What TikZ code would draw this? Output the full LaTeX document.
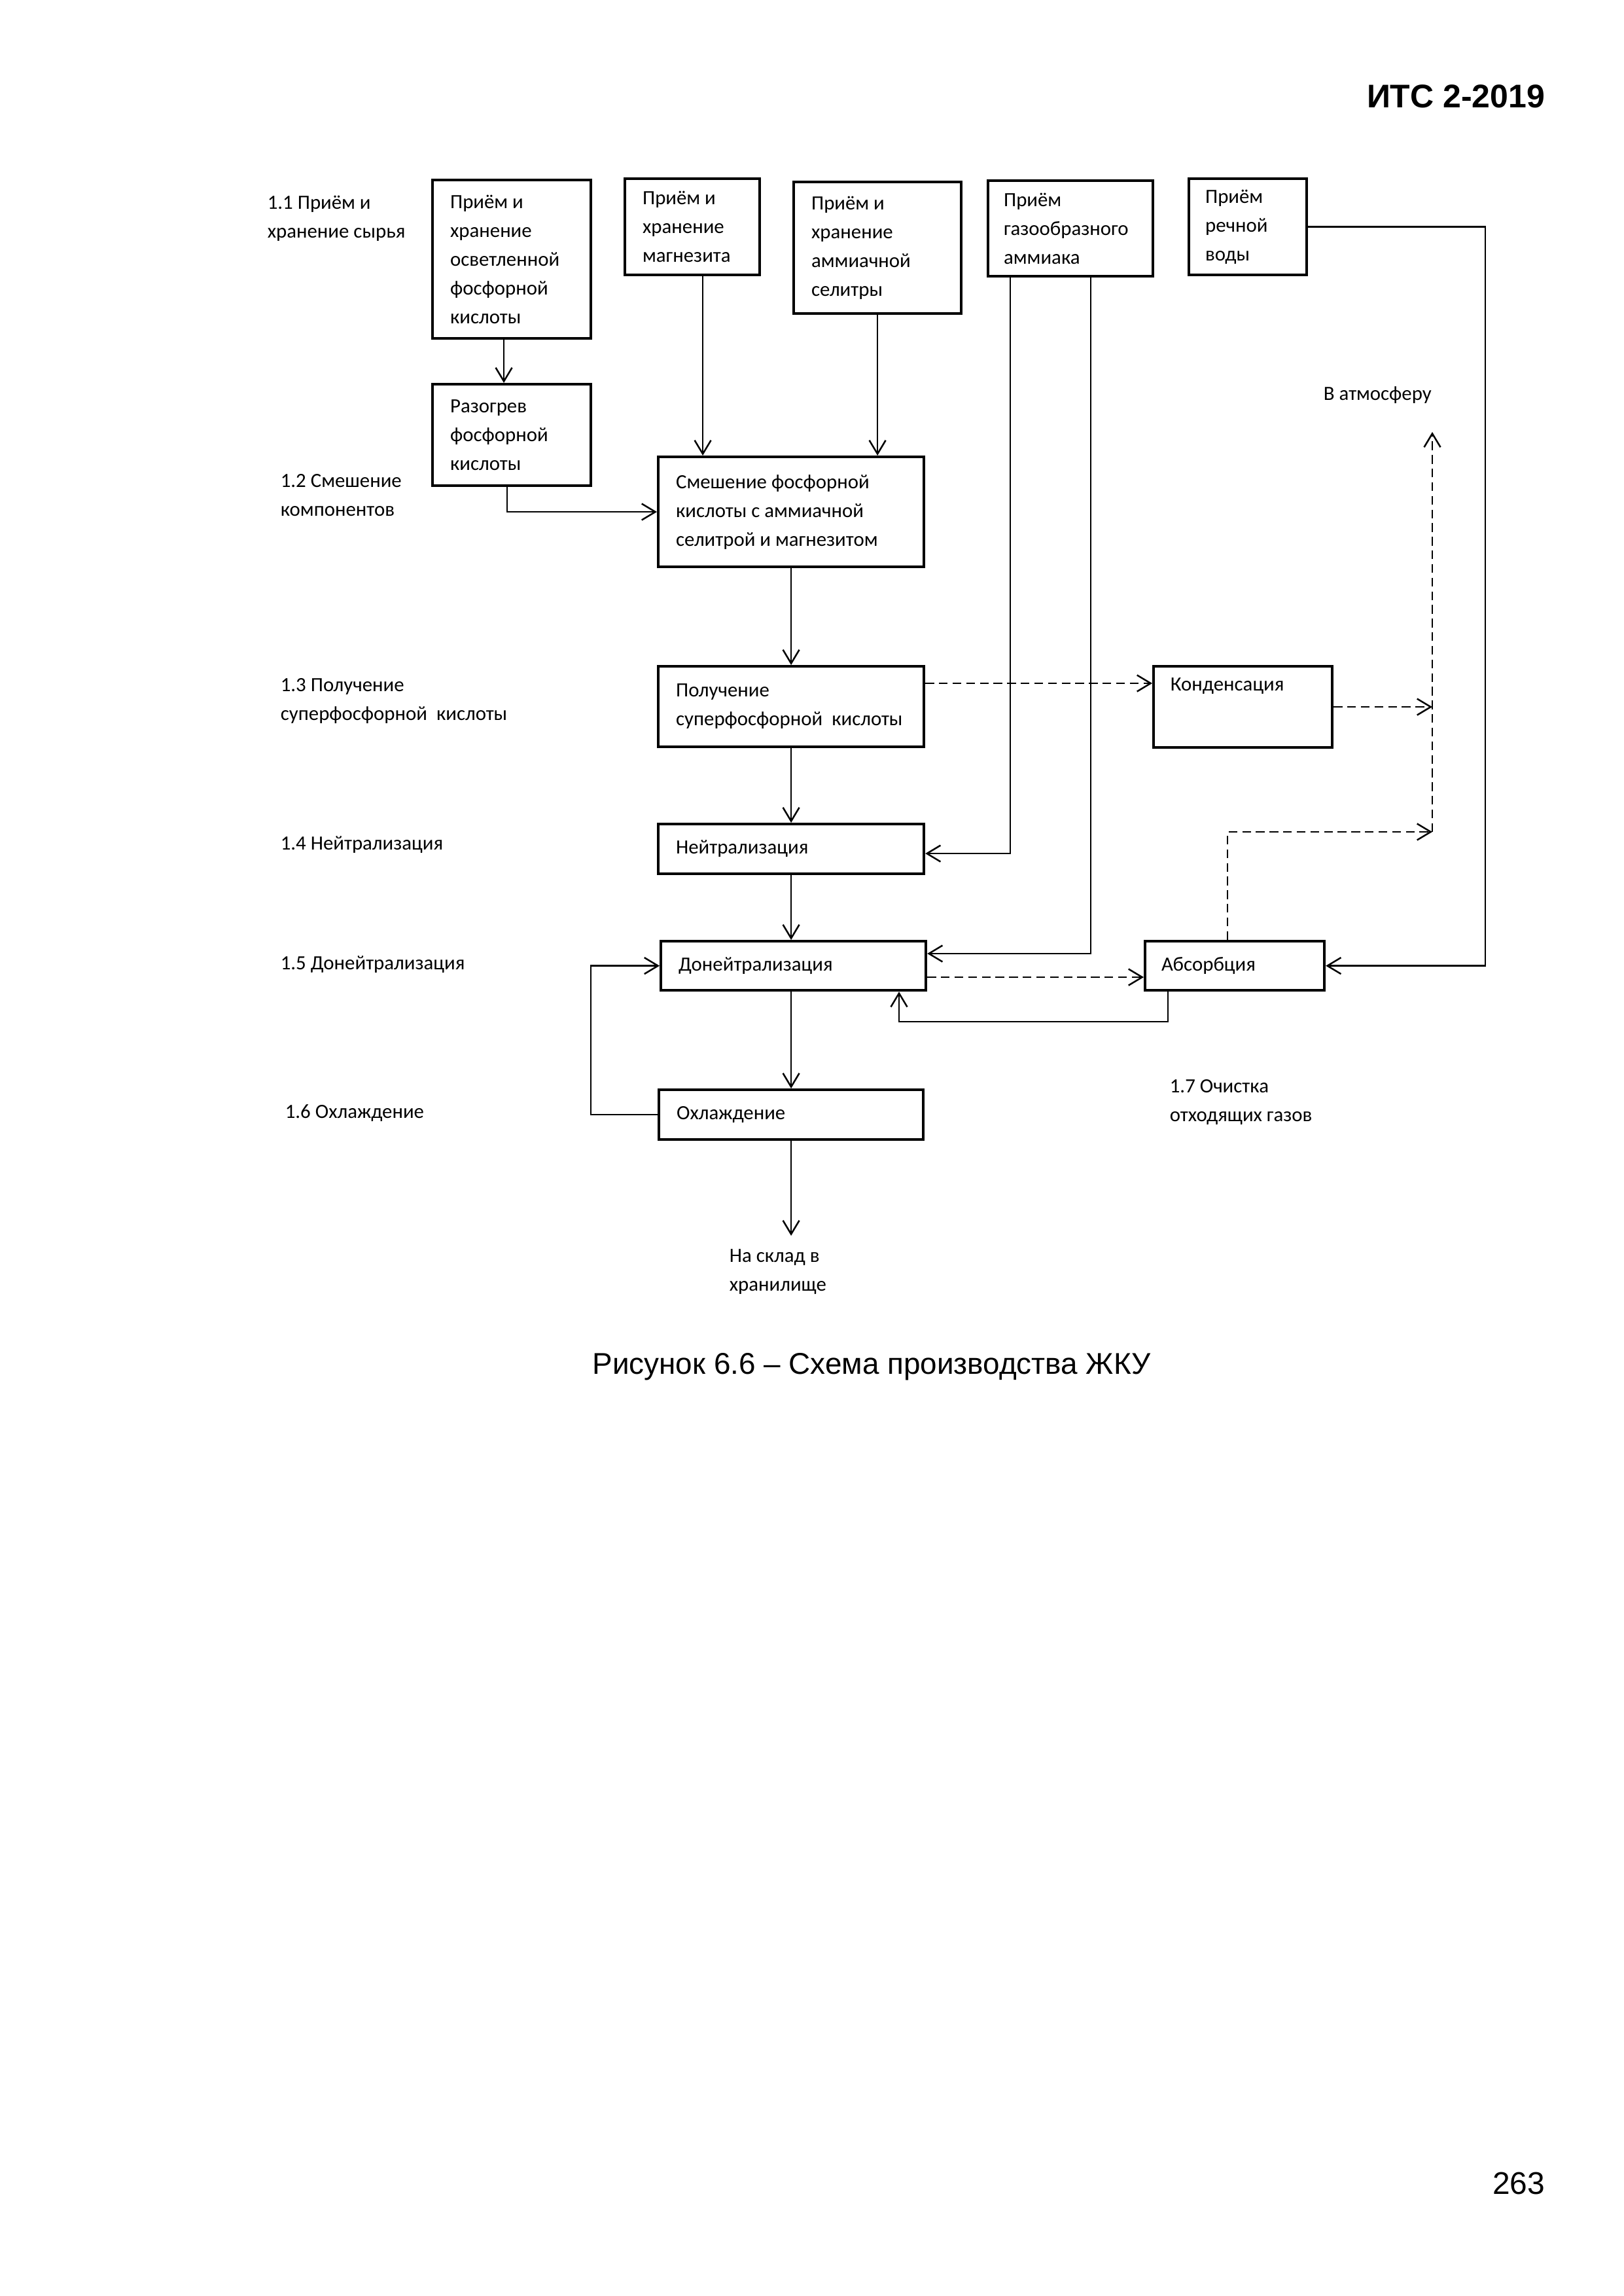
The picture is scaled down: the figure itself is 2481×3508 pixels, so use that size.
\documentclass[tikz,border=0pt]{standalone}
\usepackage{fontspec}
\setmainfont{Liberation Sans}
\newfontfamily\dfamily{Carlito}
\usetikzlibrary{arrows.meta,calc}
\newcommand{\dfnt}{\dfamily\fontsize{7.4}{10.56}\selectfont}
\begin{document}
\begin{tikzpicture}[x=0.24pt,y=-0.24pt,
  box/.style={draw,line width=1pt,anchor=north west,inner xsep=6.48pt,inner ysep=0pt,align=flush left,font=\dfnt},
  dtext/.style={inner sep=0pt,align=flush left,font=\dfnt},
  arr/.style={line width=0.6pt,-{Straight Barb[length=5pt,width=6pt]}},
  darr/.style={arr,dash pattern=on 3.2pt off 1.8pt}]
\fill[white] (0,0) rectangle (2481,3508);
\useasboundingbox (0,0) rectangle (2481,3508);

% header, caption, page number
\node[anchor=base east,inner sep=0pt,font=\fontsize{12}{14}\selectfont\bfseries] (hdr) at (2362,165) {ИТС 2-2019};
\node[anchor=base,inner sep=0pt,font=\fontsize{11}{13}\selectfont] (cap) at (1332,2099) {Рисунок 6.6 – Схема производства ЖКУ};
\node[anchor=base east,inner sep=0pt,font=\fontsize{11.5}{13}\selectfont] (pg) at (2362,3352) {263};

% boxes
\node[box,minimum width=58.08pt,minimum height=58.08pt,text width=45.12pt] (A) at (659,273)
  {Приём и\\хранение\\осветленной\\фосфорной\\кислоты};
\node[box,minimum width=49.44pt,minimum height=35.28pt,text width=36.48pt] (B) at (953,271)
  {Приём и\\хранение\\магнезита};
\node[box,minimum width=61.44pt,minimum height=48.24pt,text width=48.48pt] (C) at (1211,276)
  {Приём и\\хранение\\аммиачной\\селитры};
\node[box,minimum width=60.48pt,minimum height=35.04pt,text width=48.96pt,inner xsep=5.76pt] (D) at (1508,274)
  {Приём\\газообразного\\аммиака};
\node[box,minimum width=43.2pt,minimum height=35.28pt,text width=31.2pt,inner xsep=6pt] (E) at (1815,271)
  {Приём\\речной\\воды};
\node[box,minimum width=58.08pt,minimum height=37.2pt,text width=45.12pt] (F) at (659,585)
  {Разогрев\\фосфорной\\кислоты};
\node[box,minimum width=97.44pt,minimum height=40.32pt,text width=84.48pt] (G) at (1004,696)
  {Смешение фосфорной\\кислоты с аммиачной\\селитрой и магнезитом};
\node[box,minimum width=97.44pt,minimum height=29.52pt,text width=84.48pt] (H) at (1004,1016)
  {Получение\\суперфосфорной\ \ кислоты};
\node[box,minimum width=97.44pt,minimum height=18.24pt,text width=84.48pt] (I) at (1004,1257)
  {Нейтрализация};
\node[box,minimum width=97.2pt,minimum height=18pt,text width=84.24pt] (J) at (1008,1436)
  {Донейтрализация};
\node[box,minimum width=96.96pt,minimum height=18.24pt,text width=84pt] (K) at (1005,1663)
  {Охлаждение};
\node[box,minimum width=65.52pt,minimum height=29.76pt,text width=52.56pt] (L) at (1761,1016) {};
\node[dtext,anchor=west] (Lt) at (1788,1048) {Конденсация};
\node[box,minimum width=65.76pt,minimum height=18pt,text width=53.76pt,inner xsep=6pt] (M) at (1748,1436)
  {Абсорбция};

% stage labels
\node[dtext,anchor=west] (s11) at (408,334) {1.1 Приём и\\хранение сырья};
\node[dtext,anchor=west] (s12) at (428,757) {1.2 Смешение\\компонентов};
\node[dtext,anchor=west] (s13) at (428,1071) {1.3 Получение\\суперфосфорной\ \ кислоты};
\node[dtext,anchor=west] (s14) at (428,1291) {1.4 Нейтрализация};
\node[dtext,anchor=west] (s15) at (428,1474) {1.5 Донейтрализация};
\node[dtext,anchor=west] (s16) at (435,1701) {1.6 Охлаждение};
\node[dtext,anchor=west] (s17) at (1787,1684) {1.7 Очистка\\отходящих газов};
\node[dtext,anchor=west] (atm) at (2022,604) {В атмосферу};
\node[dtext,anchor=west] (store) at (1114,1943) {На склад в\\хранилище};

\coordinate (vb) at (2189,1271);
\coordinate (vt) at (2189,660);
\coordinate (storetip) at (1207,1888);

% solid connectors
\draw[arr] ([xshift=-2.88pt]A.south) -- ([xshift=-2.88pt]F.north);
\draw[arr] ([xshift=3.84pt]B.south) -- ([xshift=3.84pt]B.south |- G.north);
\draw[arr] (C.south) -- (C.south |- G.north);
\draw[arr] ([xshift=-1.68pt]F.south) |- (G.west);
\draw[arr] (G.south) -- (G.south |- H.north);
\draw[arr] (H.south) -- (H.south |- I.north);
\draw[arr] (I.south) -- (I.south |- J.north);
\draw[arr] (I.south |- J.south) -- (I.south |- K.north);
\draw[arr] (I.south |- K.south) -- (I.south |- storetip);
\draw[arr] ($(D.south west)+(36,0)$) |- ($(I.east)+(0,7)$);
\draw[arr] ($(D.south west)+(159,0)$) |- ($(J.north east)+(0,21)$);
\draw[arr] (E.east) -- ++(271,0) |- (M.east);
\draw[arr] (K.west) -- ++(-102,0) |- (J.west);
\draw[arr] ($(M.south west)+(37,0)$) -- ++(0,46) -| ($(J.south west)+(366,0)$);

% dashed connectors
\draw[darr] ($(H.north east)+(0,28)$) coordinate (hd) -- (hd -| L.west);
\draw[darr] (L.east) -- (L.east -| vb);
\draw[darr] ($(J.north east)+(0,57)$) coordinate (jd) -- (jd -| M.west);
\draw[darr] ($(M.north west)+(128,0)$) |- (vb);
\draw[darr] (vb) -- (vt);
\end{tikzpicture}
\end{document}
